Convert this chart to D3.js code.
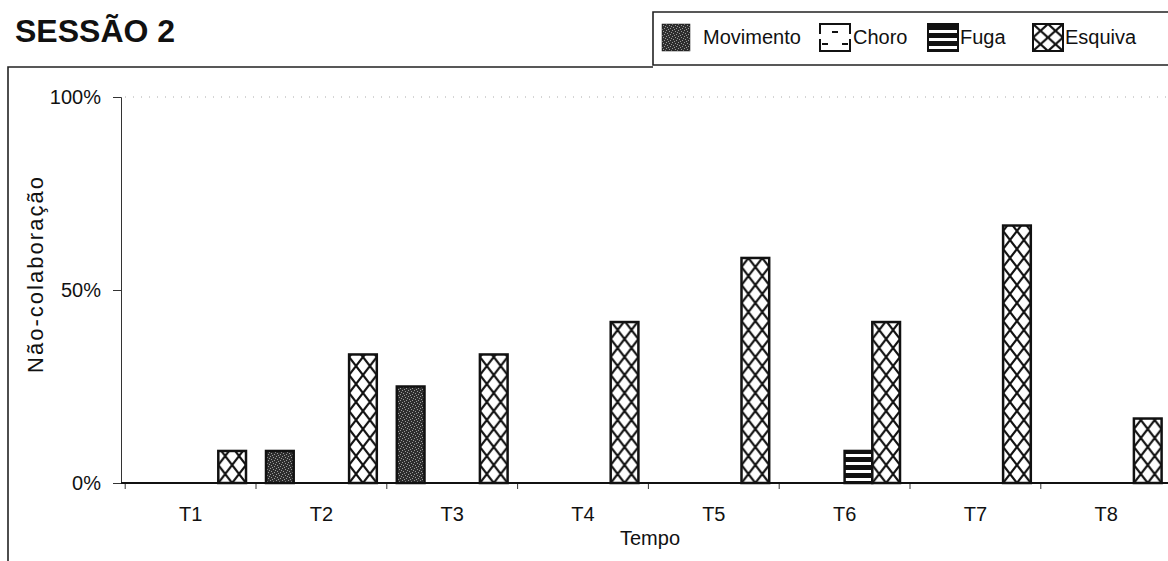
<!DOCTYPE html>
<html><head><meta charset="utf-8">
<script src="https://cdn.jsdelivr.net/npm/d3@7"></script>
<style>
html,body{margin:0;padding:0;background:#fff;}
svg{display:block;font-family:"Liberation Sans",Arial,sans-serif;}
</style></head>
<body>
<svg id="chart" width="1168" height="561"></svg>
<script>
// ---- data ----
const categories = ["T1","T2","T3","T4","T5","T6","T7","T8"];
const seriesNames = ["Movimento","Choro","Fuga","Esquiva"];
const movimento = [0, 0.083, 0.25, 0, 0, 0, 0, 0];
const choro     = [0, 0, 0, 0, 0, 0, 0, 0];
const fuga      = [0, 0, 0, 0, 0, 0.083, 0, 0];
const esquiva   = [0.083, 0.333, 0.333, 0.417, 0.583, 0.417, 0.667, 0.167];
const yTicks = [0, 0.5, 1];
const yTickLabels = ["0%","50%","100%"];
const title = "SESSÃO 2";
const xTitle = "Tempo";
const yTitle = "Não-colaboração";

const seriesValues = [movimento, choro, fuga, esquiva];

const svg = d3.select("#chart");
const defs = svg.append("defs");

// scales
const x0 = d3.scaleBand().domain(categories).range([125.2, 1171.6]).padding(0);
const x1 = d3.scaleBand().domain(seriesNames).range([10, x0.bandwidth() - 10]).padding(0);
const y = d3.scaleLinear().domain([0, 1]).range([483, 97]);

// patterns
const st = defs.append("pattern").attr("id","stipple").attr("patternUnits","userSpaceOnUse")
  .attr("width",6).attr("height",6);
st.append("rect").attr("width",6).attr("height",6).attr("fill","#2e2e2e");
[[0,0],[3,1],[1,3],[4,4],[2,5],[5,2]].forEach(p=>{
  st.append("rect").attr("x",p[0]).attr("y",p[1]).attr("width",1).attr("height",1).attr("fill","#9a9a9a");
});
const fg = defs.append("pattern").attr("id","stripes").attr("patternUnits","userSpaceOnUse")
  .attr("width",8).attr("height",8).attr("y", 2);
fg.append("rect").attr("width",8).attr("height",8).attr("fill","#111");
fg.append("rect").attr("y",4).attr("width",8).attr("height",3).attr("fill","#fff");

function crossPattern(id, x0p, y0p, w, h) {
  const p = defs.append("pattern").attr("id", id).attr("patternUnits","userSpaceOnUse")
    .attr("x", x0p).attr("y", y0p).attr("width", w).attr("height", h);
  p.append("rect").attr("width", w).attr("height", h).attr("fill", "#fff");
  p.append("path").attr("d", `M0,0L${w},${h}M${w},0L0,${h}`)
    .attr("stroke", "#111").attr("stroke-width", 2.2).attr("fill","none");
  return "url(#" + id + ")";
}

const fills = {
  "Movimento": () => "url(#stipple)",
  "Choro": () => "#fff",
  "Fuga": () => "url(#stripes)",
  "Esquiva": (bx, by, bw) => crossPattern("cx" + Math.round(bx), bx, 483, bw / 2, 18)
};

// frames
svg.append("path").attr("d","M8,561L8,67L653,67")
  .attr("fill","none").attr("stroke","#222").attr("stroke-width",1.6);
svg.append("path").attr("d","M1175,65L653,65L653,12L1175,12")
  .attr("fill","none").attr("stroke","#222").attr("stroke-width",1.6);

// title
svg.append("text").attr("x",15).attr("y",42).attr("font-size",32).attr("font-weight","bold")
  .attr("fill","#111").text(title);

// gridline at 100%
svg.append("line").attr("x1",125).attr("x2",1168).attr("y1",y(1)).attr("y2",y(1))
  .attr("stroke","#aaa").attr("stroke-width",1).attr("stroke-dasharray","1,7");

// y axis
const yAxis = d3.axisLeft(y).tickValues(yTicks).tickFormat((d,i)=>yTickLabels[i]).tickSize(8).tickPadding(12);
const gy = svg.append("g").attr("transform","translate(121,0)").call(yAxis);
gy.select(".domain").attr("stroke","#333").attr("stroke-width",1);
gy.selectAll(".tick line").attr("stroke","#333");
gy.selectAll(".tick text").attr("font-size",20).attr("fill","#111").attr("font-family","Liberation Sans, Arial, sans-serif");

// x axis
const xAxis = d3.axisBottom(x0).tickSize(0).tickPadding(24);
const gx = svg.append("g").attr("transform","translate(0,483)").call(xAxis);
gx.select(".domain").remove();
gx.selectAll(".tick text").attr("font-size",20).attr("fill","#111").attr("font-family","Liberation Sans, Arial, sans-serif");
svg.append("g").selectAll("line").data(categories).join("line")
  .attr("x1", d => x0(d)).attr("x2", d => x0(d)).attr("y1",483).attr("y2",489)
  .attr("stroke","#333").attr("stroke-width",1);
svg.append("line").attr("x1",121).attr("x2",1168).attr("y1",483).attr("y2",483)
  .attr("stroke","#111").attr("stroke-width",2);

// bars
const barData = [];
categories.forEach((c, ci) => {
  seriesNames.forEach((s, si) => {
    const v = seriesValues[si][ci];
    if (v > 0) barData.push({c, s, v});
  });
});
svg.append("g").selectAll("rect").data(barData).join("rect")
  .attr("x", d => x0(d.c) + x1(d.s))
  .attr("y", d => y(d.v))
  .attr("width", x1.bandwidth())
  .attr("height", d => y(0) - y(d.v))
  .attr("fill", d => fills[d.s](x0(d.c) + x1(d.s), y(d.v), x1.bandwidth()))
  .attr("stroke","#111").attr("stroke-width",2.5);

// axis titles
svg.append("text").attr("x",650).attr("y",545).attr("text-anchor","middle")
  .attr("font-size",20).attr("fill","#111").text(xTitle);
svg.append("text").attr("transform","translate(43,275) rotate(-90)").attr("text-anchor","middle")
  .attr("font-size",22).attr("fill","#111").attr("textLength",196).attr("lengthAdjust","spacing").text(yTitle);

// legend
const legendPos = {
  "Movimento": {sx:662, tx:703, w:28},
  "Choro": {sx:820, tx:853, w:30},
  "Fuga": {sx:928, tx:960, w:30},
  "Esquiva": {sx:1033, tx:1065, w:30}
};
const lg = svg.append("g");
seriesNames.forEach(s => {
  const p = legendPos[s];
  const sy = 24, sh = 27;
  let fill;
  if (s === "Esquiva") fill = crossPattern("lgx", p.sx, sy, p.w/2, sh/2);
  else if (s === "Movimento") fill = "url(#stipple)";
  else if (s === "Fuga") fill = "url(#stripes)";
  else fill = "#fff";
  lg.append("rect").attr("x",p.sx).attr("y",sy).attr("width",p.w).attr("height",sh)
    .attr("fill",fill).attr("stroke","#111").attr("stroke-width", s==="Movimento"?0.5:2);
  if (s === "Choro") {
    lg.append("path").attr("d",
      `M${p.sx+12},${sy+8}L${p.sx+18},${sy+8}` +
      `M${p.sx+2},${sy+20}L${p.sx+8},${sy+20}M${p.sx+22},${sy+20}L${p.sx+28},${sy+20}`)
      .attr("stroke","#111").attr("stroke-width",2);
    lg.append("rect").attr("x",p.sx-2).attr("y",sy+10).attr("width",p.w+4).attr("height",5).attr("fill","#fff");
  }
  lg.append("text").attr("x",p.tx).attr("y",sy+20).attr("font-size",20).attr("fill","#111").text(s);
});
</script>
</body></html>
